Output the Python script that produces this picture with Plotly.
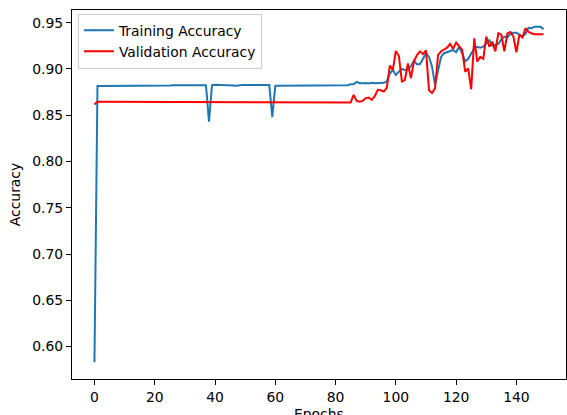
import plotly.graph_objects as go

epochs = list(range(150))

train_acc = [
    0.583, 0.8815, 0.8815, 0.8815, 0.8815, 0.8815, 0.8815, 0.8815, 0.8815, 0.8815,
    0.8815, 0.882, 0.882, 0.882, 0.882, 0.882, 0.882, 0.882, 0.882, 0.882,
    0.882, 0.882, 0.882, 0.882, 0.882, 0.882, 0.8825, 0.8825, 0.8825, 0.8825,
    0.8825, 0.8825, 0.8825, 0.8825, 0.8825, 0.8825, 0.8825, 0.8825, 0.843, 0.8825,
    0.8828, 0.8828, 0.8828, 0.8828, 0.8828, 0.8825, 0.8822, 0.8818, 0.8826, 0.8826,
    0.8826, 0.8826, 0.8826, 0.8826, 0.8826, 0.8826, 0.8826, 0.8826, 0.8826, 0.848,
    0.8818, 0.8818, 0.8818, 0.8818, 0.8818, 0.8818, 0.8818, 0.8818, 0.8818, 0.8818,
    0.8818, 0.8818, 0.8818, 0.8818, 0.8818, 0.8818, 0.8825, 0.8825, 0.8825, 0.8825,
    0.8825, 0.8825, 0.8825, 0.8825, 0.8825, 0.8835, 0.8835, 0.886, 0.8845, 0.8845,
    0.8848, 0.8842, 0.885, 0.8845, 0.8848, 0.8855, 0.885, 0.8865, 0.895, 0.899,
    0.8935, 0.897, 0.900, 0.899, 0.8995, 0.903, 0.909, 0.905, 0.905, 0.911,
    0.917, 0.913, 0.9025, 0.883, 0.897, 0.913, 0.917, 0.918, 0.919, 0.9205,
    0.918, 0.924, 0.917, 0.908, 0.911, 0.916, 0.922, 0.924, 0.923, 0.924,
    0.927, 0.931, 0.925, 0.926, 0.927, 0.932, 0.935, 0.934, 0.938, 0.939,
    0.939, 0.937, 0.935, 0.938, 0.9445, 0.944, 0.9455, 0.9456, 0.9455, 0.943,
]

val_acc = [
    0.8617, 0.8645, 0.8645, 0.8645, 0.8645, 0.8645, 0.8645, 0.8645, 0.8645, 0.8645,
    0.8645, 0.8645, 0.8645, 0.8645, 0.8645, 0.8645, 0.8645, 0.8645, 0.8645, 0.8645,
    0.8645, 0.8645, 0.8645, 0.8645, 0.8645, 0.8645, 0.8645, 0.8645, 0.8645, 0.8645,
    0.8645, 0.8645, 0.8645, 0.8645, 0.8645, 0.8645, 0.8645, 0.8645, 0.8645, 0.8645,
    0.8645, 0.8645, 0.8645, 0.8645, 0.8645, 0.8645, 0.8638, 0.8638, 0.8638, 0.8638,
    0.8638, 0.8638, 0.8638, 0.8638, 0.8638, 0.8638, 0.8638, 0.8638, 0.8638, 0.8638,
    0.8638, 0.8638, 0.8638, 0.8638, 0.8638, 0.8638, 0.8638, 0.8638, 0.8638, 0.8638,
    0.8638, 0.8638, 0.8638, 0.8638, 0.8638, 0.8638, 0.8638, 0.8638, 0.8638, 0.8638,
    0.8638, 0.8638, 0.8638, 0.8638, 0.8638, 0.8638, 0.872, 0.8655, 0.8645, 0.8655,
    0.8685, 0.869, 0.8665, 0.8705, 0.8775, 0.877, 0.8755, 0.8795, 0.9035, 0.899,
    0.9195, 0.914, 0.8865, 0.888, 0.906, 0.890, 0.908, 0.915, 0.919, 0.916,
    0.920, 0.877, 0.874, 0.879, 0.915, 0.919, 0.921, 0.923, 0.927, 0.922,
    0.9285, 0.925, 0.9205, 0.897, 0.9005, 0.878, 0.933, 0.908, 0.913, 0.911,
    0.935, 0.924, 0.9295, 0.919, 0.9385, 0.937, 0.919, 0.9385, 0.940, 0.935,
    0.918, 0.937, 0.934, 0.944, 0.940, 0.9385, 0.9375, 0.9375, 0.9375, 0.9375,
]

x_ticks = [0, 20, 40, 60, 80, 100, 120, 140]
y_ticks = [0.60, 0.65, 0.70, 0.75, 0.80, 0.85, 0.90, 0.95]

FONT = "DejaVu Sans"
FS = 13.9

fig = go.Figure()
fig.add_trace(go.Scatter(x=epochs, y=train_acc, mode="lines", name="Training Accuracy",
                         line=dict(color="#1f77b4", width=2)))
fig.add_trace(go.Scatter(x=epochs, y=val_acc, mode="lines", name="Validation Accuracy",
                         line=dict(color="red", width=2)))

axis_common = dict(
    showgrid=False, zeroline=False, showline=True, linecolor="black", linewidth=1,
    mirror=True, ticks="outside", ticklen=5, tickwidth=1, tickcolor="black",
    tickfont=dict(family=FONT, size=FS, color="black"),
)

fig.update_layout(
    width=567, height=415,
    margin=dict(l=72, r=1, t=10, b=36),
    paper_bgcolor="white", plot_bgcolor="white",
    font=dict(family=FONT, size=FS, color="black"),
    xaxis=dict(range=[-7.45, 156.45], tickvals=x_ticks, ticktext=[str(t) for t in x_ticks],
               automargin=False, **axis_common),
    yaxis=dict(range=[0.5649, 0.9637], tickvals=y_ticks, ticktext=[f"{t:.2f}" for t in y_ticks],
               title=dict(text="Accuracy", font=dict(family=FONT, size=FS), standoff=8),
               automargin=False, **axis_common),
    legend=dict(x=0.012, y=0.99, xanchor="left", yanchor="top",
                bgcolor="rgba(255,255,255,0.8)", bordercolor="#cccccc", borderwidth=1,
                font=dict(family=FONT, size=FS, color="black"), tracegroupgap=0),
    showlegend=True,
    annotations=[dict(text="Epochs", xref="paper", yref="paper", x=0.5, y=-0.067,
                      xanchor="center", yanchor="top", showarrow=False,
                      font=dict(family=FONT, size=FS, color="black"))],
)

fig.write_html("out.html")
